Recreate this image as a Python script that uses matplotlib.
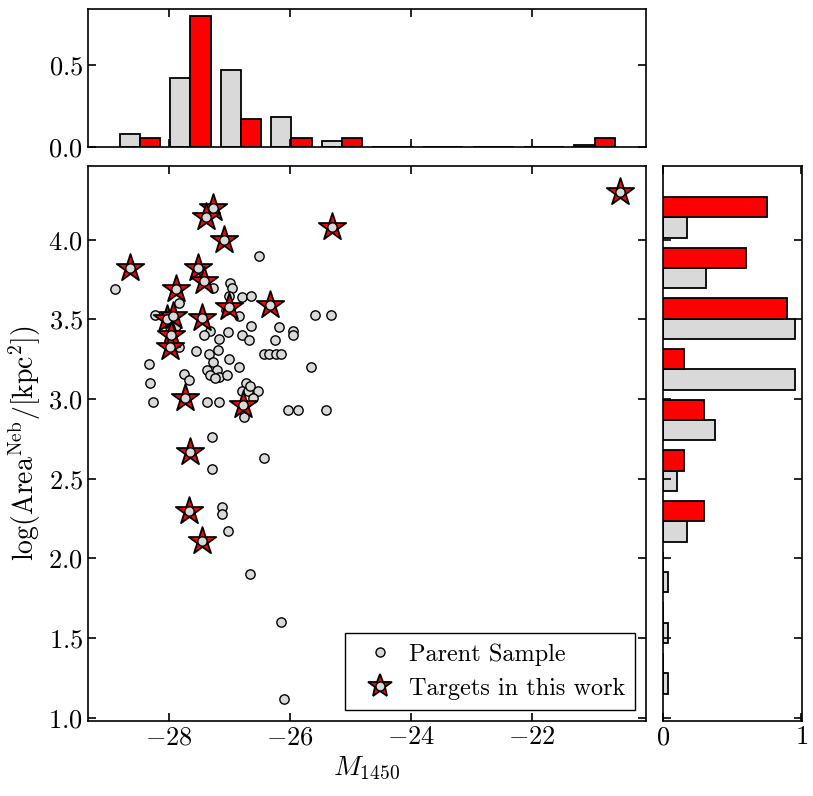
import numpy as np
import matplotlib
matplotlib.use("Agg")
import matplotlib.pyplot as plt
from matplotlib.lines import Line2D

plt.rcParams["font.family"] = "serif"
plt.rcParams["font.serif"] = ["cmr10"]
plt.rcParams["mathtext.fontset"] = "cm"
plt.rcParams["axes.formatter.use_mathtext"] = True
plt.rcParams["axes.unicode_minus"] = True

# Parent-sample quasars that are not targets: M1450 and log(Area)
others_m = [-28.89, -26.50, -27.82, -28.23, -26.98, -26.96, -27.26, -27.01, -26.78, -26.64,
            -26.84, -25.59, -25.32, -26.64, -26.17, -25.95, -25.95, -27.32, -27.42, -27.02,
            -26.79, -27.17, -26.68, -26.25, -27.82, -27.54, -27.34, -27.19, -27.01, -26.84,
            -26.43, -26.35, -26.23, -26.15, -25.65, -28.33, -27.74, -27.27, -27.36, -27.20,
            -27.31, -27.17, -27.04, -27.67, -28.30, -26.73, -26.79, -26.69, -26.53, -26.61,
            -27.37, -27.16, -28.25, -26.76, -26.03, -25.87, -25.40, -27.29, -26.43, -27.29,
            -27.12, -27.12, -27.02, -26.66, -26.15, -26.10, -27.24, -27.88, -27.98, -27.06,
            -26.66]
others_area = [3.69, 3.90, 3.60, 3.53, 3.73, 3.70, 3.70, 3.65, 3.64, 3.65,
               3.52, 3.53, 3.53, 3.46, 3.45, 3.43, 3.40, 3.43, 3.40, 3.42,
               3.40, 3.38, 3.37, 3.37, 3.33, 3.30, 3.28, 3.31, 3.25, 3.20,
               3.28, 3.28, 3.28, 3.28, 3.20, 3.22, 3.16, 3.23, 3.18, 3.18,
               3.15, 3.14, 3.15, 3.12, 3.10, 3.10, 3.05, 3.05, 3.05, 3.01,
               2.98, 2.98, 2.98, 2.89, 2.93, 2.93, 2.93, 2.76, 2.63, 2.56,
               2.32, 2.28, 2.17, 1.90, 1.60, 1.12, 3.13, 3.46, 3.43, 3.56,
               3.08]

# Targets in this work
target_m = [-27.27, -27.39, -25.30, -27.09, -28.63, -27.52, -27.42, -27.87, -27.00, -26.33,
            -28.02, -27.93, -27.44, -27.96, -27.97, -27.73, -26.77, -27.64, -27.66, -27.45,
            -20.55]
target_area = [4.20, 4.14, 4.08, 4.00, 3.82, 3.82, 3.74, 3.69, 3.58, 3.59,
               3.50, 3.52, 3.51, 3.40, 3.33, 3.01, 2.96, 2.67, 2.30, 2.11,
               4.30]

parent_m = np.array(others_m + target_m)
parent_area = np.array(others_area + target_area)

grey = "#d9d9d9"

fig = plt.figure(figsize=(8.13, 7.96), dpi=100)
ax = fig.add_axes([0.1082, 0.0948, 0.6864, 0.6967])
axt = fig.add_axes([0.1082, 0.8153, 0.6864, 0.1734], sharex=ax)
axr = fig.add_axes([0.8155, 0.0948, 0.1710, 0.6967], sharey=ax)

ax.scatter(parent_m, parent_area, s=45, c=grey, edgecolors="k", linewidths=1.0, zorder=2)
ax.scatter(target_m, target_area, marker="*", s=430, c="red", edgecolors="k",
           linewidths=1.3, zorder=3)
ax.scatter(target_m, target_area, s=45, c=grey, edgecolors="k", linewidths=1.0, zorder=4)

axt.hist([parent_m, target_m], bins=10, density=True, color=[grey, "red"],
         edgecolor="k", linewidth=1.3)
axr.hist([parent_area, np.array(target_area)], bins=10, density=True,
         orientation="horizontal", color=[grey, "red"], edgecolor="k", linewidth=1.3)

ax.set_xlim(-29.33, -20.12)
ax.set_ylim(0.983, 4.463)
ax.set_xticks([-28, -26, -24, -22])
ax.set_yticks([1.0, 1.5, 2.0, 2.5, 3.0, 3.5, 4.0])
axt.set_yticks([0.0, 0.5])
axr.set_xticks([0, 1])

for a in (ax, axt, axr):
    a.tick_params(direction="in", top=True, right=True, length=6, width=1.2,
                  labelsize=19)
    for sp in a.spines.values():
        sp.set_linewidth(1.2)
axt.tick_params(labelbottom=False)
axr.tick_params(labelleft=False)

ax.set_xlabel(r"$M_{1450}$", fontsize=20)
ax.set_ylabel(r"$\log(\mathrm{Area}^{\mathrm{Neb}}/[\mathrm{kpc}^2])$", fontsize=20)

h_parent = Line2D([], [], ls="none", marker="o", ms=6.5, mfc=grey, mec="k", mew=1.0)
h_star = Line2D([], [], ls="none", marker="*", ms=18, mfc="red", mec="k", mew=1.3)
leg = ax.legend([h_parent, (h_star, h_parent)], ["Parent Sample", "Targets in this work"],
                loc="lower right", fontsize=17.5, frameon=True, fancybox=False,
                edgecolor="k", framealpha=1, handlelength=2.1, handletextpad=0.15,
                borderaxespad=0.45)
leg.get_frame().set_linewidth(1.0)

fig.savefig("out.png", dpi=100)
